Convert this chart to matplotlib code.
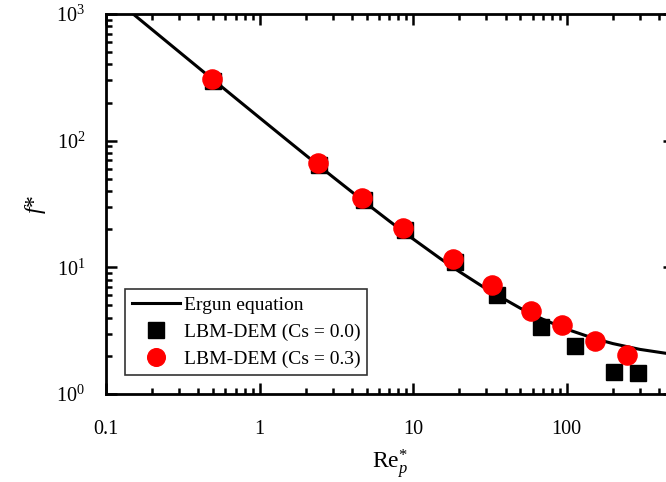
import numpy as np
import matplotlib
matplotlib.use("Agg")
import matplotlib.pyplot as plt
from matplotlib.ticker import LogLocator, NullFormatter

plt.rcParams['font.family'] = ['Liberation Serif', 'DejaVu Serif']
plt.rcParams['mathtext.fontset'] = 'custom'
plt.rcParams['mathtext.rm'] = 'Liberation Serif'
plt.rcParams['mathtext.it'] = 'Liberation Serif:italic'
plt.rcParams['mathtext.bf'] = 'Liberation Serif:bold'

# Ergun equation curve
ergun_re = [0.15, 0.2, 0.3, 0.5, 0.7, 1, 1.5, 2, 3, 5, 7, 10, 15, 20, 30, 50, 70, 100, 150, 200, 300, 500]
ergun_f = [1001.75, 751.75, 501.75, 301.75, 216.0, 151.75, 101.75, 76.75, 51.75, 31.75, 23.18,
           16.75, 11.75, 9.25, 6.75, 4.75, 3.89, 3.25, 2.75, 2.50, 2.25, 2.05]

# LBM-DEM (Cs = 0.0)
re_cs00 = [0.50, 2.43, 4.80, 8.87, 18.8, 35.2, 68.2, 113.5, 204, 292]
f_cs00 = [298, 64.6, 34.2, 19.8, 11.0, 6.06, 3.39, 2.40, 1.49, 1.47]

# LBM-DEM (Cs = 0.3)
re_cs03 = [0.491, 2.40, 4.65, 8.61, 18.2, 32.7, 58.7, 93.5, 153, 248]
f_cs03 = [309, 67.0, 35.4, 20.5, 11.7, 7.27, 4.53, 3.51, 2.62, 2.03]

fig = plt.figure(figsize=(6.66, 4.82), dpi=100)
ax = fig.add_axes([106/666, 88/482, 568/666, 380/482])

ax.plot(ergun_re, ergun_f, color='black', lw=2.2, label='Ergun equation', zorder=2)
ax.plot(re_cs00, f_cs00, linestyle='none', marker='s', ms=11.8, color='black',
        label='LBM-DEM (Cs = 0.0)', zorder=3)
ax.plot(re_cs03, f_cs03, linestyle='none', marker='o', ms=13.8, color='#ff0000',
        markeredgecolor='#ff0000', label='LBM-DEM (Cs = 0.3)', zorder=4)

ax.set_xscale('log')
ax.set_yscale('log')
ax.set_xlim(0.1, 500)
ax.set_ylim(1, 1000)

ax.xaxis.set_minor_locator(LogLocator(base=10, subs=np.arange(2, 10), numticks=20))
ax.yaxis.set_minor_locator(LogLocator(base=10, subs=np.arange(2, 10), numticks=20))
ax.xaxis.set_minor_formatter(NullFormatter())
ax.yaxis.set_minor_formatter(NullFormatter())
ax.set_xticks([0.1, 1, 10, 100])
ax.set_xticklabels(['0.1', '1', '10', '100'])
ax.set_yticks([1, 10, 100, 1000])
ax.set_yticklabels([r'$\mathdefault{10^{0}}$', r'$\mathdefault{10^{1}}$',
                    r'$\mathdefault{10^{2}}$', r'$\mathdefault{10^{3}}$'])

for s in ax.spines.values():
    s.set_linewidth(2.0)
ax.tick_params(which='both', direction='in', top=True, right=True, width=1.8, labelsize=14.5)
ax.tick_params(which='major', length=8)
ax.tick_params(which='minor', length=4.5)
ax.tick_params(axis='x', pad=19)
ax.tick_params(axis='y', pad=15)

ax.set_xlabel(r'$\mathrm{Re}_{p}^{*}$', fontsize=17, labelpad=6)
ax.set_ylabel(r'$f$*', fontsize=17, labelpad=6)

leg = ax.legend(loc='upper left', bbox_to_anchor=(0.033, 0.276), borderaxespad=0,
                fontsize=14, frameon=True, fancybox=False, edgecolor='black',
                handlelength=2.5, handletextpad=0.2, borderpad=0.35, labelspacing=0.5,
                markerscale=0.92)
leg.get_frame().set_linewidth(1.2)

fig.savefig('out.png', dpi=100)
